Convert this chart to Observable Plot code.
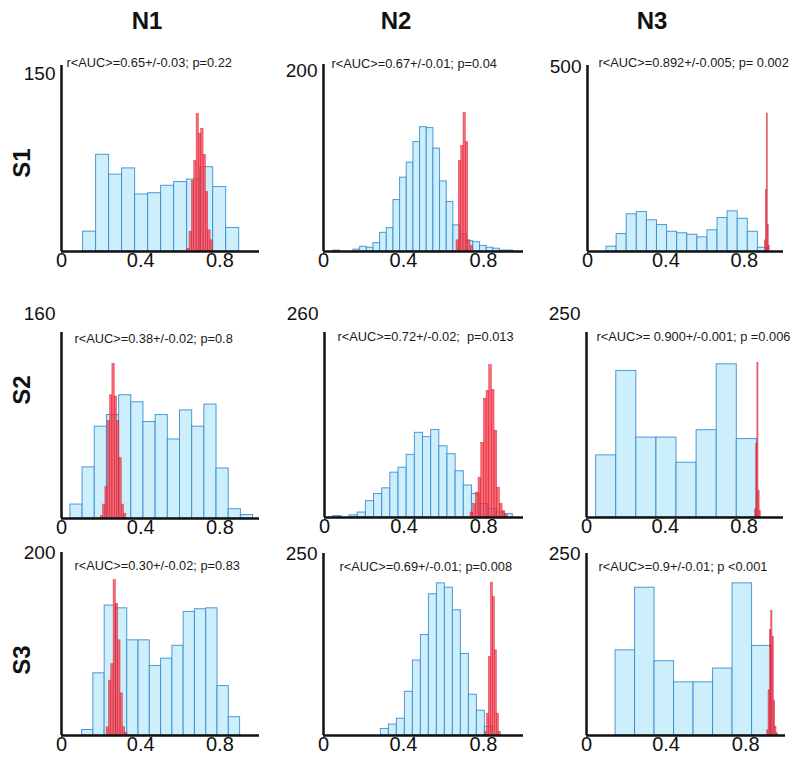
<!DOCTYPE html>
<html><head><meta charset="utf-8">
<script src="https://cdn.jsdelivr.net/npm/d3@7"></script>
<script src="https://cdn.jsdelivr.net/npm/@observablehq/plot@0.6"></script>
<style>
body{margin:0;background:#fff}
#wrap{position:relative;width:794px;height:758px;font-family:"Liberation Sans",Arial,sans-serif;overflow:hidden}
.lbl{position:absolute;font-weight:bold;font-size:24px;color:#111;white-space:nowrap}
</style>
</head><body><div id="wrap"></div>
<script>
const FONT = '"Liberation Sans", Arial, sans-serif';
const columns = ["N1", "N2", "N3"];
const rowNames = ["S1", "S2", "S3"];
const yMax = [[150, 200, 500], [160, 260, 250], [200, 250, 250]];
const xTicks = [0, 0.4, 0.8];
const notes = [
  ["r<AUC>=0.65+/-0.03; p=0.22", "r<AUC>=0.67+/-0.01; p=0.04", "r<AUC>=0.892+/-0.005; p= 0.002"],
  ["r<AUC>=0.38+/-0.02; p=0.8", "r<AUC>=0.72+/-0.02;  p=0.013", "r<AUC>= 0.900+/-0.001; p =0.006"],
  ["r<AUC>=0.30+/-0.02; p=0.83", "r<AUC>=0.69+/-0.01; p=0.008", "r<AUC>=0.9+/-0.01; p <0.001"]
];

// shuffled (blue) histograms: first bin start, bin width, counts
const blueStart = [[0.109, 0.05, 0.097], [0.045, 0.044, 0.049], [0.104, 0.287, 0.146]];
const blueWidth = [[0.0657, 0.0333, 0.0515], [0.0615, 0.041, 0.102], [0.057, 0.04, 0.098]];
const blueS1N1 = [16, 78, 62, 67, 46, 47, 53, 56, 58, 68, 52, 19];
const blueS1N2 = [1, 0, 0, 2, 5, 4, 9, 20, 25, 55, 79, 95, 117, 133, 132, 110, 75, 53, 28, 18, 11, 10, 6, 4, 3, 1, 1];
const blueS1N3 = [13, 47, 100, 106, 84, 71, 53, 49, 45, 38, 57, 90, 108, 88, 53, 10];
const blueS2N1 = [12, 44, 79, 89, 106, 100, 83, 89, 68, 93, 79, 98, 43, 8, 3];
const blueS2N2 = [2, 0, 3, 7, 23, 33, 41, 63, 70, 88, 119, 113, 123, 100, 89, 65, 45, 33, 19, 12, 7, 5];
const blueS2N3 = [84, 198, 108, 108, 74, 118, 207, 106];
const blueS3N1 = [6, 68, 142, 139, 104, 104, 76, 84, 98, 135, 138, 139, 54, 20];
const blueS3N2 = [9, 15, 23, 60, 103, 138, 194, 209, 203, 172, 112, 56, 34, 12];
const blueS3N3 = [117, 203, 102, 73, 73, 92, 209, 123];

// observed (red) histograms
const redStart = [[0.635, 0.665, 0.905], [0.198, 0.734, 0.856], [0.228, 0.807, 0.908]];
const redWidth = [[0.0118, 0.0117, 0.005], [0.0118, 0.0134, 0.0057], [0.0117, 0.01, 0.0067]];
const redS1N1 = [2, 16, 57, 73, 111, 95, 99, 78, 48, 17, 9];
const redS1N2 = [12, 97, 113, 148, 117, 12, 6];
const redS1N3 = [30, 165, 371, 72, 15];
const redS2N1 = [2, 12, 27, 84, 106, 133, 105, 84, 52, 12, 4];
const redS2N2 = [7, 19, 35, 56, 105, 167, 178, 214, 179, 122, 42, 19, 9, 4];
const redS2N3 = [11, 99, 209, 36, 9];
const redS3N1 = [9, 60, 78, 170, 144, 104, 46, 9, 3];
const redS3N2 = [5, 30, 108, 210, 190, 117, 30, 5];
const redS3N3 = [7, 62, 145, 171, 135, 48, 12, 3];

const blueCounts = [[blueS1N1, blueS1N2, blueS1N3], [blueS2N1, blueS2N2, blueS2N3], [blueS3N1, blueS3N2, blueS3N3]];
const redCounts = [[redS1N1, redS1N2, redS1N3], [redS2N1, redS2N2, redS2N3], [redS3N1, redS3N2, redS3N3]];

// layout (pixels)
const layX0 = [[61, 323, 587], [61, 324, 586], [61, 323, 586]];
const layX1 = [[259, 523, 783], [259, 523, 783], [259, 523, 785]];
const layTop = [[65, 64, 65], [332, 332, 332], [552, 553, 553]];
const layBase = [[251, 251, 251], [518, 517, 517], [735, 735, 735]];
const maxLabelDy = [[8, 6, 1], [-18.5, -18.5, -18.5], [0, 0, 0]];
const noteX = [[66, 331, 598], [74, 337, 596], [74, 339, 598]];
const noteY = [[62, 63, 62], [338, 336, 336], [565, 566, 566]];
const titleX = [147, 396, 652];
const rowY = [163, 390, 660];

const wrap = document.getElementById("wrap");

function bins(start, width, counts) {
  return counts.map((c, i) => ({x1: start + i * width, x2: start + (i + 1) * width, n: c}));
}

const mL = 50, mR = 14, mT = 34, mB = 34;
for (let r = 0; r < 3; r++) {
  for (let c = 0; c < 3; c++) {
    const x0 = layX0[r][c], x1 = layX1[r][c], top = layTop[r][c], base = layBase[r][c];
    const w = x1 - x0, h = base - top;
    const blue = bins(blueStart[r][c], blueWidth[r][c], blueCounts[r][c]);
    const red = bins(redStart[r][c], redWidth[r][c], redCounts[r][c]);
    const ym = yMax[r][c];
    const svg = Plot.plot({
      width: w + mL + mR,
      height: h + mT + mB,
      marginLeft: mL, marginRight: mR, marginTop: mT, marginBottom: mB,
      x: {domain: [0, 1], label: null},
      y: {domain: [0, ym], label: null},
      style: {background: "transparent", overflow: "visible", fontFamily: FONT, color: "#111"},
      marks: [
        Plot.rectY(blue, {x1: "x1", x2: "x2", y: "n", fill: "#cdeefb", stroke: "#3088cf", strokeWidth: 1, strokeOpacity: 0.85}),
        Plot.rectY(red, {x1: "x1", x2: "x2", y: "n", fill: "#ff3442", fillOpacity: 0.75, stroke: "#c01c36", strokeWidth: 0.5, strokeOpacity: 0.75}),
        Plot.ruleY([0], {stroke: "#111", strokeWidth: 2.5}),
        Plot.ruleX([0], {stroke: "#111", strokeWidth: 2.5}),
        Plot.axisX({ticks: xTicks, tickSize: 0, tickPadding: 1, fontSize: 20, label: null, tickFormat: d => String(d)}),
        Plot.axisY({ticks: [ym], tickSize: 0, tickPadding: 6, fontSize: 19, label: null, dy: maxLabelDy[r][c], tickFormat: d => String(d)}),
        Plot.text([notes[r][c]], {text: d => d, frameAnchor: "top-left", dx: noteX[r][c] - x0, dy: noteY[r][c] - top, textAnchor: "start", lineAnchor: "middle", fontSize: 12.8, fill: "#1a1a1a"})
      ]
    });
    svg.style.position = "absolute";
    svg.style.left = (x0 - mL) + "px";
    svg.style.top = (top - mT) + "px";
    wrap.appendChild(svg);
  }
}

columns.forEach((t, i) => {
  const d = document.createElement("div");
  d.className = "lbl";
  d.textContent = t;
  d.style.left = titleX[i] + "px";
  d.style.top = "21px";
  d.style.transform = "translate(-50%,-50%)";
  wrap.appendChild(d);
});
rowNames.forEach((t, i) => {
  const d = document.createElement("div");
  d.className = "lbl";
  d.textContent = t;
  d.style.left = "22px";
  d.style.top = rowY[i] + "px";
  d.style.transform = "translate(-50%,-50%) rotate(-90deg)";
  wrap.appendChild(d);
});
</script>
</body></html>
